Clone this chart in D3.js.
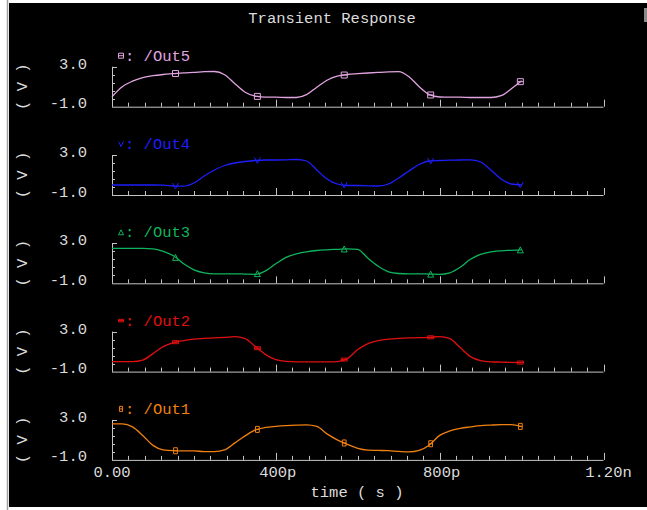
<!DOCTYPE html>
<html>
<head>
<meta charset="utf-8">
<script src="https://cdn.jsdelivr.net/npm/d3@7"></script>
<style>
  html, body { margin: 0; padding: 0; background: #fff; }
  text { font-family: "Liberation Mono", "DejaVu Sans Mono", monospace; }
</style>
</head>
<body>
<div id="chart"></div>
<script>
var width = 647, height = 510;

// sample times in ps
var times = [0,25,50,75,100,125,150,175,200,225,250,275,300,325,350,375,400,425,450,475,500,
             525,550,575,600,625,650,675,700,725,750,775,800,825,850,875,900,925,950,975,1000];

var out5 = [0.0,1.0,1.55,1.9,2.1,2.22,2.3,2.38,2.43,2.5,2.52,2.2,1.3,0.45,0.05,-0.05,-0.05,-0.08,-0.08,0.2,0.95,
            1.65,2.05,2.22,2.3,2.37,2.43,2.48,2.5,2.0,1.0,0.2,-0.03,-0.05,-0.05,-0.08,-0.08,-0.08,0.1,0.8,1.6];
var out4 = [0.0,0.0,0.0,0.0,0.0,-0.02,-0.1,-0.12,0.2,0.9,1.5,1.95,2.2,2.35,2.45,2.5,2.5,2.52,2.55,2.4,1.5,
            0.6,0.1,-0.05,-0.05,-0.08,-0.1,0.1,0.7,1.4,2.05,2.4,2.45,2.48,2.5,2.52,2.3,1.5,0.6,0.1,0.0];
var out3 = [2.5,2.5,2.5,2.5,2.45,2.2,1.75,0.95,0.35,0.05,-0.05,-0.05,-0.05,-0.08,-0.1,0.25,0.95,1.6,1.95,2.15,2.28,
            2.35,2.4,2.45,2.4,1.5,0.7,0.15,-0.02,-0.05,-0.05,-0.08,-0.1,0.05,0.6,1.4,1.9,2.15,2.25,2.3,2.35];
var out2 = [0.0,0.0,0.0,0.15,0.8,1.5,1.9,2.1,2.25,2.32,2.38,2.42,2.5,2.3,1.5,0.7,0.2,0.02,-0.02,-0.02,-0.02,
            -0.02,0.0,0.3,1.2,1.8,2.1,2.25,2.32,2.37,2.4,2.42,2.5,2.3,1.4,0.5,0.1,-0.02,-0.05,-0.08,-0.1];
var out1 = [2.6,2.6,2.3,1.45,0.45,0.0,-0.08,-0.1,-0.1,-0.17,-0.17,0.0,0.7,1.4,2.0,2.25,2.35,2.42,2.47,2.5,2.35,
            1.6,1.0,0.55,0.15,-0.02,-0.05,-0.08,-0.15,-0.2,-0.05,0.5,1.45,1.9,2.15,2.3,2.43,2.48,2.52,2.53,2.33];

var seriesNames = ["/Out5", "/Out4", "/Out3", "/Out2", "/Out1"];
var seriesValues = [out5, out4, out3, out2, out1];
var seriesColors = ["#e0a4e0", "#1e1eff", "#10b45c", "#e01010", "#f08010"];
var markerShapes = ["square", "vee", "triangle", "cross", "bar"];
var markerTimes = [155, 355, 567, 778, 997];

var xTicks = [0, 400, 800, 1200];
var xTickLabels = ["0.00", "400p", "800p", "1.20n"];
var yTickLabels = ["3.0", "-1.0"];

var svg = d3.select("#chart").append("svg")
    .attr("width", width)
    .attr("height", height);

// window frame
svg.append("rect").attr("width", width).attr("height", height).attr("fill", "#fff");
svg.append("rect").attr("x", 9).attr("y", 3).attr("width", width - 9).attr("height", 504).attr("fill", "#000");
svg.append("line").attr("x1", 7.5).attr("x2", 7.5).attr("y1", 0).attr("y2", height)
    .attr("stroke", "#a0a0a0").attr("stroke-width", 1.5);
svg.append("rect").attr("x", 644).attr("y", 8).attr("width", 3).attr("height", 14).attr("fill", "#8a8a8a");

var axisColor = "#c4c4c4", textColor = "#dcdcdc";

var x = d3.scaleLinear().domain([0, 1200]).range([112, 603.5]);

svg.append("text")
    .attr("x", 332).attr("y", 22.5)
    .attr("text-anchor", "middle")
    .attr("font-size", 15.5)
    .attr("fill", textColor)
    .text("Transient Response");

var panelH = 40, firstBottom = 106.7, step = 88.3;

function markerPath(shape, s) {
    if (shape == "square") return "M" + (-s) + "," + (-s) + "h" + 2 * s + "v" + 2 * s + "h" + (-2 * s) + "Z M" + (-s) + ",0h" + 2 * s;
    if (shape == "vee") return "M" + (-s) + "," + (-s) + "L0," + s + "L" + s + "," + (-s);
    if (shape == "triangle") return "M0," + (-s) + "L" + s + "," + s + "L" + (-s) + "," + s + "Z";
    if (shape == "cross") return "M" + (-s) + ",0h" + 2 * s + "M" + (-s) + "," + (-s / 2) + "h" + 2 * s + "v" + s + "h" + (-2 * s) + "Z";
    return "M" + (-s / 1.6) + "," + (-s) + "h" + (2 * s / 1.6) + "v" + 2 * s + "h" + (-2 * s / 1.6) + "Z M" + (-s / 1.6) + ",0h" + (2 * s / 1.6);
}

seriesNames.forEach(function(name, i) {
    var bottom = firstBottom + i * step;
    var y = d3.scaleLinear().domain([-1, 3]).range([bottom, bottom - panelH]);
    var g = svg.append("g");
    var color = seriesColors[i];

    // x axis line with ticks
    g.append("line").attr("x1", x(0)).attr("x2", x(1200)).attr("y1", bottom + 0.5).attr("y2", bottom + 0.5)
        .attr("stroke", axisColor);
    g.selectAll("line.xt").data(d3.range(0, 1201, 40)).enter().append("line")
        .attr("class", "xt")
        .attr("x1", function(d) { return Math.round(x(d)) + 0.5; })
        .attr("x2", function(d) { return Math.round(x(d)) + 0.5; })
        .attr("y1", bottom)
        .attr("y2", function(d) { return bottom - (d % 400 == 0 ? 7 : 4); })
        .attr("stroke", axisColor);

    // y axis line with ticks
    g.append("line").attr("x1", x(0) + 0.5).attr("x2", x(0) + 0.5).attr("y1", bottom).attr("y2", bottom - panelH)
        .attr("stroke", axisColor);
    g.selectAll("line.yt").data([3.0, 2.2, 1.4, 0.6, -0.2]).enter().append("line")
        .attr("class", "yt")
        .attr("x1", x(0))
        .attr("x2", function(d, j) { return x(0) + (j == 0 ? 5 : 3); })
        .attr("y1", function(d) { return Math.round(y(d)) + 0.5; })
        .attr("y2", function(d) { return Math.round(y(d)) + 0.5; })
        .attr("stroke", axisColor);

    // y tick labels
    g.append("text").attr("x", 87).attr("y", y(3) + 2).attr("text-anchor", "end")
        .attr("font-size", 15.5).attr("fill", textColor).text(yTickLabels[0]);
    g.append("text").attr("x", 87).attr("y", y(-1) + 1.5).attr("text-anchor", "end")
        .attr("font-size", 15.5).attr("fill", textColor).text(yTickLabels[1]);

    // y axis title
    g.append("text")
        .attr("transform", "translate(23," + (bottom - panelH / 2) + ") rotate(-90)")
        .attr("text-anchor", "middle").attr("dominant-baseline", "central")
        .attr("font-size", 15.5).attr("fill", textColor).text("( V )");

    // legend
    g.append("path").attr("d", markerPath(markerShapes[i], 2.5))
        .attr("transform", "translate(121," + (bottom - panelH - 11) + ")")
        .attr("fill", "none").attr("stroke", color);
    g.append("text").attr("x", 125).attr("y", bottom - panelH - 6)
        .attr("font-size", 15.5).attr("fill", color).text(": " + name);

    // signal
    var pts = times.map(function(t, j) { return [t, seriesValues[i][j]]; });
    var line = d3.line()
        .x(function(d) { return x(d[0]); })
        .y(function(d) { return y(d[1]); })
        .curve(d3.curveMonotoneX);
    g.append("path").datum(pts).attr("d", line)
        .attr("fill", "none").attr("stroke", color).attr("stroke-width", 1.3);

    // markers
    var interp = d3.scaleLinear().domain(times).range(seriesValues[i]);
    g.selectAll("path.mk").data(markerTimes).enter().append("path")
        .attr("class", "mk")
        .attr("d", markerPath(markerShapes[i], 3))
        .attr("transform", function(t) { return "translate(" + x(t) + "," + y(interp(t)) + ")"; })
        .attr("fill", "none").attr("stroke", color);
});

// x tick labels on the bottom panel
var lastBottom = firstBottom + 4 * step;
svg.selectAll("text.xl").data(xTicks).enter().append("text")
    .attr("class", "xl")
    .attr("x", function(d, i) { return x(d) + (i == 3 ? 5 : (i == 0 ? 0 : 2)); })
    .attr("y", lastBottom + 17)
    .attr("text-anchor", "middle")
    .attr("font-size", 15.5).attr("fill", textColor)
    .text(function(d, i) { return xTickLabels[i]; });

svg.append("text")
    .attr("x", 357).attr("y", lastBottom + 37.5)
    .attr("text-anchor", "middle")
    .attr("font-size", 15.5).attr("fill", textColor)
    .text("time ( s )");
</script>
</body>
</html>
